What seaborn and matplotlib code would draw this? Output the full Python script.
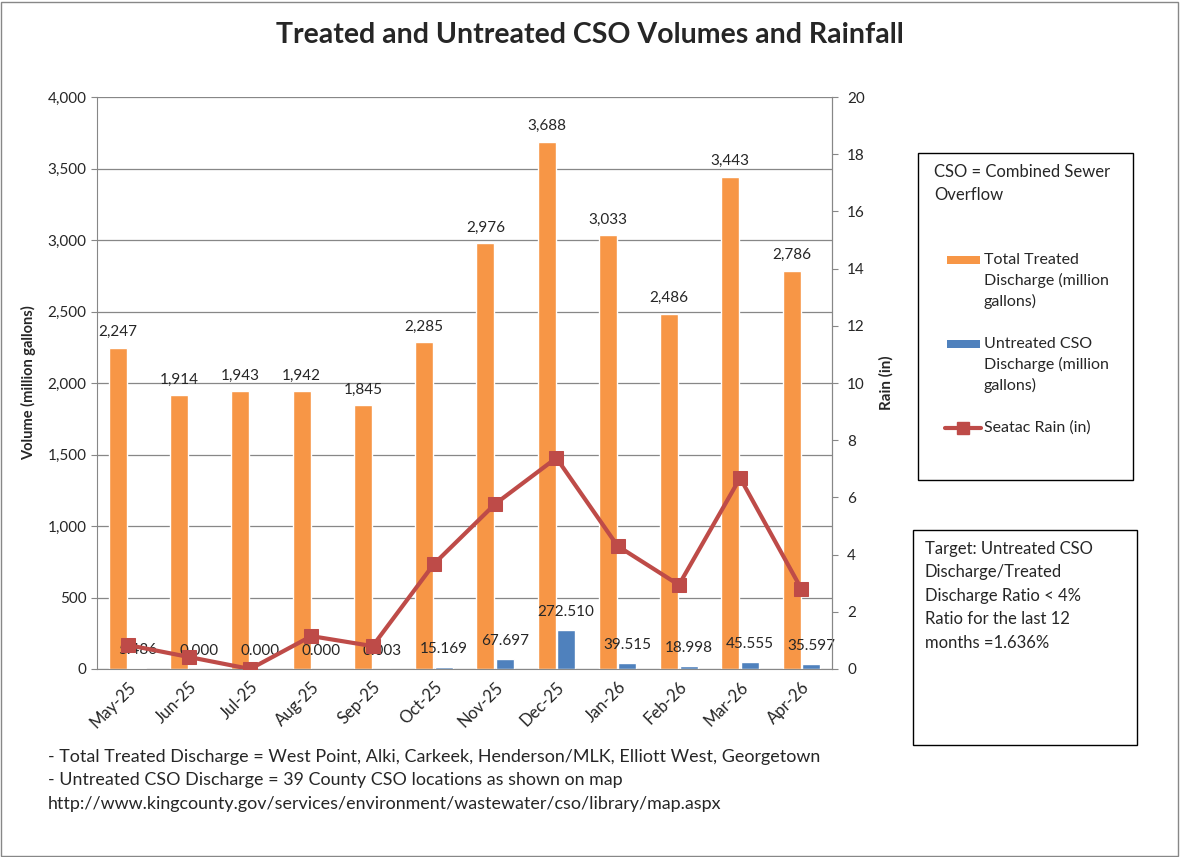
import numpy as np
import pandas as pd
import matplotlib.pyplot as plt
import seaborn as sns
from matplotlib.patches import Rectangle
from matplotlib.lines import Line2D
from matplotlib.ticker import FuncFormatter, FixedLocator

months = ["May-25", "Jun-25", "Jul-25", "Aug-25", "Sep-25", "Oct-25",
          "Nov-25", "Dec-25", "Jan-26", "Feb-26", "Mar-26", "Apr-26"]
treated = [2247, 1914, 1943, 1942, 1845, 2285, 2976, 3688, 3033, 2486, 3443, 2786]
untreated = [5.486, 0.000, 0.000, 0.000, 0.003, 15.169, 67.697, 272.510, 39.515, 18.998, 45.555, 35.597]
rain = [0.84, 0.42, 0.0, 1.15, 0.80, 3.67, 5.77, 7.38, 4.30, 2.94, 6.68, 2.80]

treated_name = "Total Treated Discharge (million gallons)"
untreated_name = "Untreated CSO Discharge (million gallons)"
orange = "#F79646"
blue = "#4F81BD"
red = "#BE4B48"
grey = "#878787"

sns.set_style("white")
plt.rcParams['font.family'] = ['Lato', 'DejaVu Sans']

df = pd.DataFrame({
    "Month": months * 2,
    "Series": [treated_name] * 12 + [untreated_name] * 12,
    "Value": treated + untreated,
})

W, H = 1180, 857
fig = plt.figure(figsize=(11.8, 8.57), dpi=100)
ax = fig.add_axes([97 / W, 1 - 669 / H, 735 / W, 572 / H])

sns.barplot(data=df, x="Month", y="Value", hue="Series", order=months,
            palette=[orange, blue], width=0.64, gap=0.08, legend=False,
            saturation=1, ax=ax)

ax.set_ylim(0, 4000)
ax.set_xlim(-0.5, 11.5)
ax.yaxis.set_major_locator(FixedLocator(np.arange(0, 4001, 500)))
ax.yaxis.set_major_formatter(FuncFormatter(lambda v, p: f"{v:,.0f}"))
ax.grid(axis="y", color=grey, linewidth=0.9)
ax.set_axisbelow(True)
ax.set_xlabel("")
ax.set_ylabel("Volume (million gallons)", fontsize=10.5, fontweight="bold", labelpad=8)
ax.tick_params(axis="y", labelsize=11, length=4, direction="out", left=True, color=grey)
ax.set_xticks(range(12))
ax.set_xticklabels(months, rotation=45, ha="right", rotation_mode="anchor", fontsize=12)
ax.tick_params(axis="x", which="major", length=0, pad=7)
ax.set_xticks(np.arange(-0.5, 12, 1), minor=True)
ax.tick_params(axis="x", which="minor", length=5, color=grey, direction="out")
ax.spines["top"].set_visible(False)
for s in ["left", "bottom", "right"]:
    ax.spines[s].set_color(grey)

ax.bar_label(ax.containers[0], labels=[f"{v:,.0f}" for v in treated], padding=6, fontsize=11)
ax.bar_label(ax.containers[1], labels=[f"{v:.3f}" for v in untreated], padding=8, fontsize=11)

ax2 = ax.twinx()
sns.lineplot(x=np.arange(12), y=rain, color=red, linewidth=3, marker="s",
             markersize=10, markeredgecolor=red, ax=ax2)
ax2.set_ylim(0, 20)
ax2.set_xlim(-0.5, 11.5)
ax2.set_yticks(np.arange(0, 21, 2))
ax2.tick_params(axis="y", labelsize=11, length=4, right=True, color=grey, pad=7)
ax2.set_ylabel("Rain (in)", fontsize=11, fontweight="bold", labelpad=10)
for s in ["top", "left", "bottom"]:
    ax2.spines[s].set_visible(False)
ax2.spines["right"].set_color(grey)

fig.text(590 / W, 1 - 35 / H, "Treated and Untreated CSO Volumes and Rainfall",
         ha="center", va="center", fontsize=20.5, fontweight="bold")

# legend box, drawn by hand so the swatches sit on the first text line
fig.add_artist(Rectangle((918 / W, 1 - 480 / H), 215 / W, 327 / H,
                         transform=fig.transFigure, fill=False, edgecolor="black", linewidth=1))
fig.text(934 / W, 1 - 172 / H, "CSO = Combined Sewer", fontsize=12, va="center")
fig.text(934 / W, 1 - 195 / H, "Overflow", fontsize=12, va="center")
legend_items = [
    (orange, "patch", 260, ["Total Treated", "Discharge (million", "gallons)"]),
    (blue, "patch", 344, ["Untreated CSO", "Discharge (million", "gallons)"]),
    (red, "line", 428, ["Seatac Rain (in)"]),
]
for color, kind, ytop, lines in legend_items:
    if kind == "patch":
        fig.add_artist(Rectangle((947 / W, 1 - (ytop + 4) / H), 33 / W, 8 / H,
                                 transform=fig.transFigure, facecolor=color, edgecolor="none"))
    else:
        fig.add_artist(Line2D([945 / W, 981 / W], [1 - ytop / H] * 2, transform=fig.transFigure,
                              color=color, linewidth=3))
        fig.add_artist(Line2D([963 / W], [1 - ytop / H], transform=fig.transFigure, color=color,
                              marker="s", markersize=9, linestyle="none"))
    for j, line in enumerate(lines):
        fig.text(984 / W, 1 - (ytop + 20.5 * j) / H, line, fontsize=11.5, va="center")

# target box
fig.add_artist(Rectangle((913 / W, 1 - 745 / H), 224 / W, 215 / H,
                         transform=fig.transFigure, fill=False, edgecolor="black", linewidth=1))
target_lines = ["Target: Untreated CSO", "Discharge/Treated", "Discharge Ratio < 4%",
                "Ratio for the last 12", "months =1.636%"]
for j, line in enumerate(target_lines):
    fig.text(925 / W, 1 - (549 + 23.5 * j) / H, line, fontsize=12, va="center")

notes = ["- Total Treated Discharge = West Point, Alki, Carkeek, Henderson/MLK, Elliott West, Georgetown",
         "- Untreated CSO Discharge = 39 County CSO locations as shown on map",
         "http://www.kingcounty.gov/services/environment/wastewater/cso/library/map.aspx"]
for i, line in enumerate(notes):
    fig.text(48 / W, 1 - (757 + 23.5 * i) / H, line, fontsize=12.9, va="center")

fig.add_artist(Rectangle((0.001, 0.001), 0.997, 0.997, transform=fig.transFigure,
                         fill=False, edgecolor=grey, linewidth=1))

fig.savefig("out.png", dpi=100)
